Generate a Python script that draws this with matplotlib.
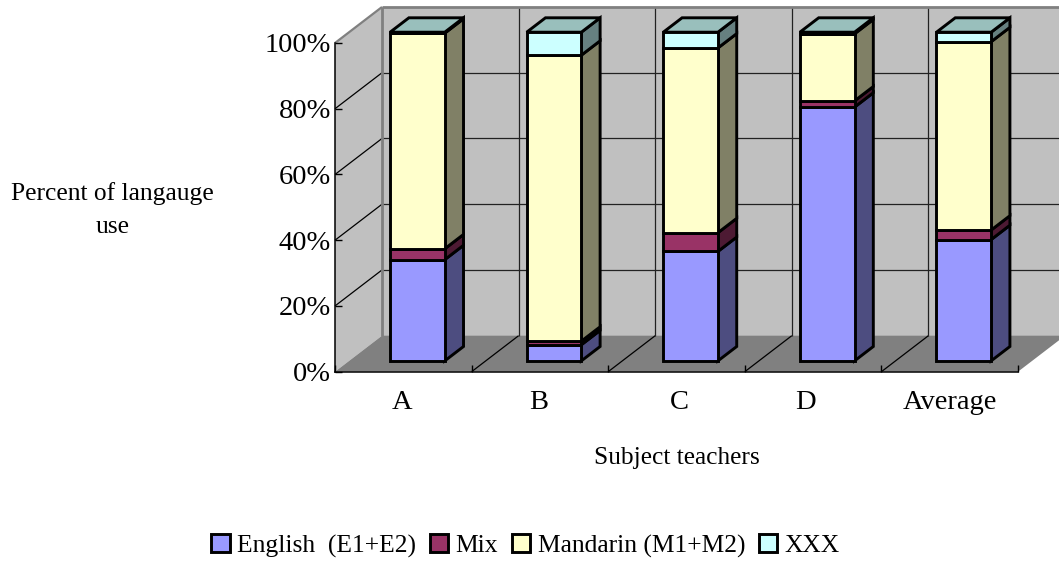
import numpy as np
import matplotlib
matplotlib.use('Agg')
import matplotlib.pyplot as plt
from matplotlib.transforms import ScaledTranslation

plt.rcParams['font.family'] = ['Liberation Serif', 'DejaVu Serif']

# Data
teachers = ['A', 'B', 'C', 'D', 'Average']
english = [30.8, 4.9, 33.3, 77.2, 36.9]
mix = [3.3, 1.1, 5.7, 1.9, 2.9]
mandarin = [65.6, 87.0, 56.2, 20.4, 57.3]
xxx = [0.3, 7.0, 4.8, 0.5, 2.9]
series_names = ['English  (E1+E2)', 'Mix', 'Mandarin (M1+M2)', 'XXX']
y_ticks = [0, 20, 40, 60, 80, 100]

front_colors = ['#9999FF', '#993366', '#FFFFCC', '#CCFFFF']
side_colors = ['#4D4D80', '#4D1A33', '#808066', '#668080']
top_color = '#99BFBC'

W, H = 1059, 563
fig = plt.figure(figsize=(W / 100, H / 100), dpi=100)
ax = fig.add_axes([335 / W, 1 - 371.7 / H, 683 / W, 328.7 / H])
ax.set_xlim(-0.5, 4.5)
ax.set_ylim(0, 100)
ax.patch.set_visible(False)

# depth of the fake 3D box, in data units
DX = 47 / 136.6
DY = 36 / 3.287
bar_w = 0.4
d_front = 0.3
d_size = 0.4


def proj(x, y, d):
    return x + d * DX, y + d * DY


def face(pts, **kw):
    xs, ys = zip(*[proj(*p) for p in pts])
    return ax.fill(xs, ys, clip_on=False, **kw)


def line3(p0, p1, color='black', lw=1.0, z=1.5):
    (x0, y0), (x1, y1) = proj(*p0), proj(*p1)
    ax.plot([x0, x1], [y0, y1], color=color, lw=lw, zorder=z, clip_on=False,
            solid_capstyle='butt')


# walls and floor
face([(-0.5, 0, 0), (-0.5, 100, 0), (-0.5, 100, 1), (-0.5, 0, 1)], fc='#C0C0C0', ec='none', zorder=1)
face([(-0.5, 0, 1), (-0.5, 100, 1), (4.5, 100, 1), (4.5, 0, 1)], fc='#C0C0C0', ec='none', zorder=1)
face([(-0.5, 0, 0), (4.5, 0, 0), (4.5, 0, 1), (-0.5, 0, 1)], fc='#808080', ec='none', zorder=1)

for v in y_ticks[1:-1]:
    line3((-0.5, v, 0), (-0.5, v, 1), lw=0.9)
    line3((-0.5, v, 1), (4.5, v, 1), color='#222222', lw=0.9)
for k in np.arange(0.5, 4.5):
    line3((k, 0, 0), (k, 0, 1), lw=0.9)
    line3((k, 0, 1), (k, 100, 1), color='#222222', lw=0.9)

line3((-0.5, 100, 0), (-0.5, 100, 1), color='#808080', lw=1.6)
line3((-0.5, 100, 1), (4.5, 100, 1), color='#808080', lw=2.0)
line3((-0.5, 0, 1), (-0.5, 100, 1), color='#808080', lw=2.0)

# stacked bars
x = np.arange(len(teachers))
series = [english, mix, mandarin, xxx]
lw = 2.1
bottom = np.zeros(len(teachers))
containers = []
for vals, fc, sc in zip(series, front_colors, side_colors):
    vals = np.array(vals)
    fx, fb = proj(x, bottom, d_front)
    bars = ax.bar(fx, vals, width=bar_w, bottom=fb, color=fc, edgecolor='black',
                  linewidth=lw, zorder=3, clip_on=False)
    containers.append(bars)
    for xi, b, v in zip(x, bottom, vals):
        xr = xi + bar_w / 2
        face([(xr, b, d_front), (xr, b + v, d_front),
              (xr, b + v, d_front + d_size), (xr, b, d_front + d_size)],
             fc=sc, ec='black', lw=lw, zorder=2.9, joinstyle='miter')
    bottom = bottom + vals

for xi, t in zip(x, bottom):
    xl, xr = xi - bar_w / 2, xi + bar_w / 2
    face([(xl, t, d_front), (xr, t, d_front),
          (xr, t, d_front + d_size), (xl, t, d_front + d_size)],
         fc=top_color, ec='black', lw=lw, zorder=2.95, joinstyle='miter')

# axes
for s in ['top', 'right']:
    ax.spines[s].set_visible(False)
ax.spines['left'].set_linewidth(1.1)
ax.spines['bottom'].set_linewidth(1.1)
ax.set_yticks(y_ticks)
ax.set_yticklabels(['%d%%' % v for v in y_ticks], fontsize=20.5)
ax.set_xticks(np.arange(-0.5, 5))
ax.set_xticklabels([''] * 6)
ax.set_xticks(x, minor=True)
labels = ax.set_xticklabels(teachers, minor=True, fontsize=20.5)
ax.tick_params(axis='y', direction='in', length=5, width=1, pad=3)
ax.tick_params(axis='x', which='major', direction='in', length=5, width=1)
ax.tick_params(axis='x', which='minor', length=0, pad=13)

# the original category labels are not quite centred on their slots
for lab, nudge in zip(labels, [-1, -1, 3, -8, 0]):
    lab.set_transform(lab.get_transform() + ScaledTranslation(nudge / 100, 0, fig.dpi_scale_trans))

ax.set_xlabel('Subject teachers', fontsize=18.3, labelpad=23)
ax.set_ylabel('Percent of langauge\nuse', fontsize=18.4, rotation=0, ha='center',
              va='center', linespacing=1.65)
ax.yaxis.set_label_coords(-0.326, 0.492)

fig.legend([c for c in containers], series_names, loc='center',
           bbox_to_anchor=(525.5 / W, 1 - 546 / H), ncols=4, frameon=False,
           fontsize=18.4, handlelength=0.72, handleheight=0.72,
           handletextpad=0.28, columnspacing=0.55, borderpad=0)

fig.savefig('out.png', dpi=100)
